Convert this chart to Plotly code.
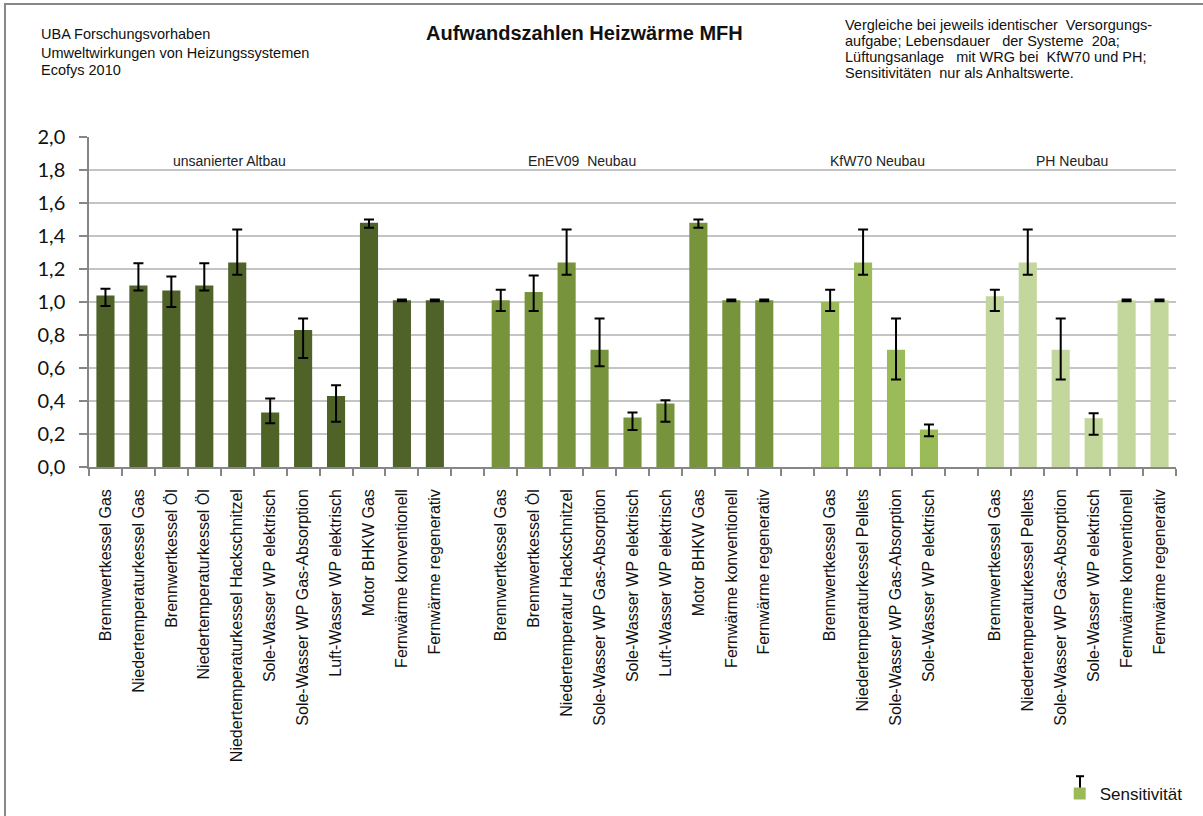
import plotly.graph_objects as go

# --- data -----------------------------------------------------------------
groups = ["unsanierter Altbau", "EnEV09  Neubau", "KfW70 Neubau", "PH Neubau"]

labels_altbau = [
    "Brennwertkessel Gas", "Niedertemperaturkessel Gas", "Brennwertkessel Öl",
    "Niedertemperaturkessel Öl", "Niedertemperaturkessel Hackschnitzel",
    "Sole-Wasser WP elektrisch", "Sole-Wasser WP Gas-Absorption",
    "Luft-Wasser WP elektrisch", "Motor BHKW Gas", "Fernwärme konventionell",
    "Fernwärme regenerativ",
]
values_altbau = [1.04, 1.10, 1.07, 1.10, 1.24, 0.33, 0.83, 0.43, 1.48, 1.01, 1.01]
plus_altbau = [0.04, 0.135, 0.085, 0.135, 0.20, 0.085, 0.07, 0.065, 0.02, 0.005, 0.005]
minus_altbau = [0.065, 0.03, 0.10, 0.03, 0.075, 0.065, 0.17, 0.155, 0.03, 0.005, 0.005]

labels_enev = [
    "Brennwertkessel Gas", "Brennwertkessel Öl", "Niedertemperatur Hackschnitzel",
    "Sole-Wasser WP Gas-Absorption", "Sole-Wasser WP elektrisch",
    "Luft-Wasser WP elektrisch", "Motor BHKW Gas", "Fernwärme konventionell",
    "Fernwärme regenerativ",
]
values_enev = [1.01, 1.06, 1.24, 0.71, 0.30, 0.385, 1.48, 1.01, 1.01]
plus_enev = [0.065, 0.10, 0.20, 0.19, 0.03, 0.02, 0.02, 0.005, 0.005]
minus_enev = [0.065, 0.115, 0.075, 0.10, 0.075, 0.11, 0.03, 0.005, 0.005]

labels_kfw = [
    "Brennwertkessel Gas", "Niedertemperaturkessel Pellets",
    "Sole-Wasser WP Gas-Absorption", "Sole-Wasser WP elektrisch",
]
values_kfw = [1.00, 1.24, 0.71, 0.227]
plus_kfw = [0.075, 0.20, 0.19, 0.03]
minus_kfw = [0.055, 0.075, 0.18, 0.04]

labels_ph = [
    "Brennwertkessel Gas", "Niedertemperaturkessel Pellets",
    "Sole-Wasser WP Gas-Absorption", "Sole-Wasser WP elektrisch",
    "Fernwärme konventionell", "Fernwärme regenerativ",
]
values_ph = [1.035, 1.24, 0.71, 0.296, 1.01, 1.01]
plus_ph = [0.04, 0.20, 0.19, 0.03, 0.005, 0.005]
minus_ph = [0.09, 0.075, 0.18, 0.10, 0.005, 0.005]

colors = ["#4F6228", "#77933C", "#9BBB59", "#C3D69B"]

left_note = ["UBA Forschungsvorhaben", "Umweltwirkungen von Heizungssystemen", "Ecofys 2010"]
right_note = [
    "Vergleiche bei jeweils identischer  Versorgungs-",
    "aufgabe; Lebensdauer   der Systeme  20a;",
    "Lüftungsanlage   mit WRG bei  KfW70 und PH;",
    "Sensitivitäten  nur als Anhaltswerte.",
]

series = [
    (labels_altbau, values_altbau, plus_altbau, minus_altbau),
    (labels_enev, values_enev, plus_enev, minus_enev),
    (labels_kfw, values_kfw, plus_kfw, minus_kfw),
    (labels_ph, values_ph, plus_ph, minus_ph),
]

FONT = "Arial, Liberation Sans, sans-serif"

fig = go.Figure()

tickvals, ticktext = [], []
start = 0
for i, (labels, values, plus, minus) in enumerate(series):
    xs = list(range(start, start + len(labels)))
    tickvals += xs
    ticktext += labels
    fig.add_trace(go.Bar(
        x=xs, y=values, width=0.55,
        marker=dict(color=colors[i], line=dict(width=0)),
        error_y=dict(type="data", symmetric=False, array=plus, arrayminus=minus,
                     color="black", thickness=2, width=5),
        name="Sensitivität",
        showlegend=(i == 2),
    ))
    start += len(labels) + 1  # one empty slot between groups

n_slots = start - 1
boundaries = [k - 0.5 for k in range(n_slots + 1)]

# group captions inside the plot
group_x = [3.78, 14.47, 23.45, 29.34]
for g, gx in zip(groups, group_x):
    fig.add_annotation(x=gx, y=1.855, xref="x", yref="y", text=g, showarrow=False,
                       font=dict(family=FONT, size=14, color="#222"))

# header texts
for line, yy in zip(left_note, [1.312, 1.256, 1.202]):
    fig.add_annotation(x=-0.046, y=yy, xref="paper", yref="paper",
                       xanchor="left", yanchor="middle", showarrow=False, text=line,
                       font=dict(family=FONT, size=14.5, color="#111"))

fig.add_annotation(
    x=0.456, y=1.315, xref="paper", yref="paper", xanchor="center", yanchor="middle",
    showarrow=False, text="<b>Aufwandszahlen Heizwärme MFH</b>",
    font=dict(family=FONT, size=20, color="#111"),
)

for line, yy in zip(right_note, [1.339, 1.291, 1.242, 1.194]):
    fig.add_annotation(x=0.694, y=yy, xref="paper", yref="paper",
                       xanchor="left", yanchor="middle", showarrow=False, text=line,
                       font=dict(family=FONT, size=14.5, color="#111"))

# outer chart border
fig.add_shape(type="rect", xref="paper", yref="paper",
              x0=-0.0773, x1=1.2, y0=-1.2, y1=1.403,
              line=dict(color="#878787", width=2))

# small error-bar glyph on the legend symbol
gx, gy0, gy1, cap = 0.9117, -0.985, -0.937, 0.0037
fig.add_shape(type="line", xref="paper", yref="paper", x0=gx, x1=gx, y0=gy0, y1=gy1,
              line=dict(color="black", width=2))
for gy in (gy0, gy1):
    fig.add_shape(type="line", xref="paper", yref="paper", x0=gx - cap, x1=gx + cap,
                  y0=gy, y1=gy, line=dict(color="black", width=2))

fig.update_layout(
    width=1203, height=816,
    margin=dict(l=89, r=27, t=137, b=349, autoexpand=False),
    paper_bgcolor="white", plot_bgcolor="white",
    barmode="overlay",
    separators=",.",
    font=dict(family=FONT, color="#111"),
    legend=dict(x=0.893, y=-0.936, xanchor="left", yanchor="top",
                font=dict(family=FONT, size=17), bgcolor="rgba(0,0,0,0)"),
)

fig.update_xaxes(
    range=[-0.5, n_slots - 0.5], automargin=False,
    tickmode="array", tickvals=tickvals, ticktext=ticktext,
    tickangle=-90, ticks="", ticklabelstandoff=14,
    tickfont=dict(family=FONT, size=16, color="#111"),
    showgrid=False, zeroline=False,
    showline=True, linecolor="#868686", linewidth=1.5,
    minor=dict(tickmode="array", tickvals=boundaries, ticks="outside",
               ticklen=7, tickcolor="#868686", tickwidth=1.5, showgrid=False),
)

fig.update_yaxes(
    range=[0, 2.0], dtick=0.2, tickformat=".1f", automargin=False,
    ticks="outside", ticklen=8, tickcolor="#868686", tickwidth=1.5,
    ticklabelstandoff=10,
    tickfont=dict(family="Lato, Open Sans, sans-serif", size=20, color="#111"),
    showgrid=True, gridcolor="#C4C4C4", gridwidth=2,
    showline=True, linecolor="#868686", linewidth=1.5,
    zeroline=False,
)

fig.write_html("out.html", config={"displayModeBar": False},
               post_script="document.body.style.margin='0';")
